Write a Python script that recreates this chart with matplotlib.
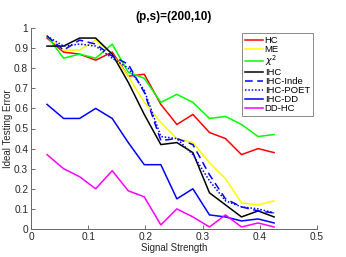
import matplotlib
matplotlib.use('Agg')
import matplotlib.pyplot as plt

plt.rcParams['font.family'] = ['Liberation Sans', 'DejaVu Sans']

# signal strength grid
x = [0.028, 0.057, 0.085, 0.113, 0.142, 0.170, 0.198, 0.227,
     0.255, 0.283, 0.312, 0.340, 0.368, 0.397, 0.425]

hc = [0.95, 0.88, 0.87, 0.84, 0.88, 0.76, 0.77, 0.62, 0.52, 0.57, 0.48, 0.45, 0.37, 0.40, 0.38]
me = [0.96, 0.89, 0.89, 0.94, 0.87, 0.76, 0.63, 0.53, 0.45, 0.43, 0.33, 0.25, 0.13, 0.12, 0.14]
chi2 = [0.96, 0.85, 0.87, 0.85, 0.92, 0.78, 0.75, 0.63, 0.67, 0.63, 0.55, 0.56, 0.52, 0.46, 0.47]
ihc = [0.91, 0.91, 0.95, 0.95, 0.87, 0.73, 0.57, 0.42, 0.43, 0.38, 0.18, 0.12, 0.06, 0.09, 0.06]
ihc_inde = [0.96, 0.89, 0.94, 0.92, 0.86, 0.82, 0.68, 0.44, 0.45, 0.42, 0.27, 0.15, 0.11, 0.09, 0.08]
ihc_poet = [0.96, 0.91, 0.92, 0.91, 0.85, 0.80, 0.69, 0.46, 0.45, 0.37, 0.24, 0.14, 0.11, 0.10, 0.08]
ihc_dd = [0.62, 0.55, 0.55, 0.60, 0.55, 0.43, 0.32, 0.32, 0.15, 0.20, 0.07, 0.06, 0.04, 0.05, 0.03]
dd_hc = [0.37, 0.30, 0.26, 0.20, 0.29, 0.19, 0.16, 0.02, 0.10, 0.06, 0.01, 0.07, 0.01, 0.03, 0.01]

labels = ['HC', 'ME', r'$\chi^2$', 'IHC', 'IHC-Inde', 'IHC-POET', 'IHC-DD', 'DD-HC']

fig = plt.figure(figsize=(3.46, 2.57), dpi=100)
ax = fig.add_axes([0.0896, 0.109, 0.8266, 0.782])

lw = 1.1
ax.plot(x, hc, color='#ff0000', lw=lw, label=labels[0])
ax.plot(x, me, color='#ffff00', lw=lw, label=labels[1])
ax.plot(x, chi2, color='#00ff00', lw=lw, label=labels[2])
ax.plot(x, ihc, color='black', lw=lw, label=labels[3])
ax.plot(x, ihc_inde, color='#0000ff', lw=lw, ls=(0, (5, 3)), label=labels[4])
ax.plot(x, ihc_poet, color='#0000ff', lw=lw, ls=(0, (1, 1.2)), label=labels[5])
ax.plot(x, ihc_dd, color='#0000ff', lw=lw, label=labels[6])
ax.plot(x, dd_hc, color='#ff00ff', lw=lw, label=labels[7])

ax.set_xlim(0, 0.5)
ax.set_ylim(0, 1)
ax.set_xticks([0, 0.1, 0.2, 0.3, 0.4, 0.5])
ax.set_xticklabels(['0', '0.1', '0.2', '0.3', '0.4', '0.5'])
ax.set_yticks([i / 10 for i in range(11)])
ax.set_yticklabels(['0'] + ['%.1f' % (i / 10) for i in range(1, 10)] + ['1'])
ax.tick_params(direction='in', length=3, width=0.6, labelsize=7.3,
               colors='#555555', labelcolor='#262626', pad=2)
for s in ['top', 'right']:
    ax.spines[s].set_visible(False)
for s in ['left', 'bottom']:
    ax.spines[s].set_linewidth(0.7)
    ax.spines[s].set_color('#666666')

ax.set_title('(p,s)=(200,10)', fontsize=8.5, fontweight='bold', pad=6)
ax.set_xlabel('Signal Strength', fontsize=7, color='#262626', labelpad=1)
ax.set_ylabel('Ideal Testing Error', fontsize=7, color='#262626', labelpad=1)

leg = ax.legend(loc='upper right', bbox_to_anchor=(0.985, 0.975), fontsize=6.8,
                frameon=True, fancybox=False, handlelength=1.9,
                handletextpad=0.2, labelspacing=0.0, borderpad=0.3,
                borderaxespad=0)
leg.get_frame().set_edgecolor('#555555')
leg.get_frame().set_linewidth(0.6)

fig.savefig('out.png', dpi=100)
